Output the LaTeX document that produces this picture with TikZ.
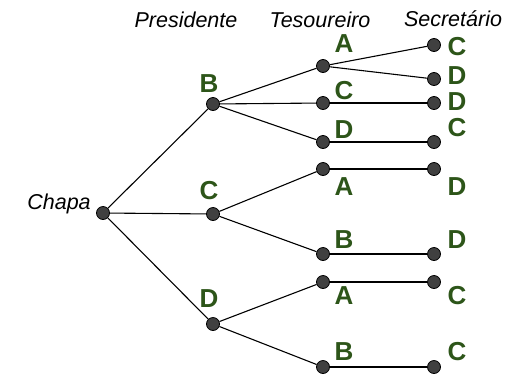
\documentclass[tikz,border=0pt]{standalone}
\usepackage{fontspec}
\setmainfont{Liberation Sans}
\definecolor{verde}{RGB}{45,85,25}
\definecolor{cinza}{RGB}{64,64,64}
\begin{document}
\begin{tikzpicture}[x=1pt,y=-1pt,line width=1.1pt,
	ponto/.style={circle,draw=black,fill=cinza,line width=0.8pt,minimum size=13pt,inner sep=0pt},
	letra/.style={text=verde,font=\fontsize{26}{26}\selectfont\bfseries,inner sep=0pt},
	cargo/.style={font=\fontsize{21.5}{21.5}\selectfont\itshape,anchor=base,inner sep=0pt}]
	\useasboundingbox (0,0) rectangle (514,373);
	% cargos
	\node[cargo] (pres) at (186,27) {Presidente};
	\node[cargo] (tes) at (320,27) {Tesoureiro};
	\node[cargo] (sec) at (453,26) {Secretário};
	% raiz
	\node[ponto] (chapa) at (103,213) {};
	\node[cargo] (tchapa) at (59,209) {Chapa};
	% presidente
	\node[ponto] (pB) at (213,104) {};
	\node[ponto] (pC) at (213,214) {};
	\node[ponto] (pD) at (213,324) {};
	\node[letra] (lpB) at (209,84) {B};
	\node[letra] (lpC) at (209,191) {C};
	\node[letra] (lpD) at (209,299) {D};
	% tesoureiro
	\node[ponto] (tA1) at (323,66) {};
	\node[ponto] (tC1) at (323,103) {};
	\node[ponto] (tD1) at (323,142) {};
	\node[ponto] (tA2) at (323,169) {};
	\node[ponto] (tB2) at (323,254) {};
	\node[ponto] (tA3) at (323,282) {};
	\node[ponto] (tB3) at (323,367) {};
	\node[letra] (ltA1) at (344,44) {A};
	\node[letra] (ltC1) at (344,91) {C};
	\node[letra] (ltD1) at (344,130) {D};
	\node[letra] (ltA2) at (344,187) {A};
	\node[letra] (ltB2) at (344,240) {B};
	\node[letra] (ltA3) at (344,296) {A};
	\node[letra] (ltB3) at (344,352) {B};
	% secretario
	\node[ponto] (sC1) at (434,45) {};
	\node[ponto] (sD1) at (434,79) {};
	\node[ponto] (sD2) at (434,103) {};
	\node[ponto] (sC2) at (434,142) {};
	\node[ponto] (sD3) at (434,169) {};
	\node[ponto] (sD4) at (434,254) {};
	\node[ponto] (sC3) at (434,282) {};
	\node[ponto] (sC4) at (434,367) {};
	\node[letra] (lsC1) at (457,47) {C};
	\node[letra] (lsD1) at (457,76) {D};
	\node[letra] (lsD2) at (457,102) {D};
	\node[letra] (lsC2) at (457,128) {C};
	\node[letra] (lsD3) at (457,187) {D};
	\node[letra] (lsD4) at (457,240) {D};
	\node[letra] (lsC3) at (457,296) {C};
	\node[letra] (lsC4) at (457,352) {C};
	% ramos
	\draw (chapa) -- (pB);
	\draw (chapa) -- (pC);
	\draw (chapa) -- (pD);
	\draw (pB) -- (tA1);
	\draw (pB) -- (tC1);
	\draw (pB) -- (tD1);
	\draw (pC) -- (tA2);
	\draw (pC) -- (tB2);
	\draw (pD) -- (tA3);
	\draw (pD) -- (tB3);
	\draw (tA1) -- (sC1);
	\draw (tA1) -- (sD1);
	\draw (tC1) -- (sD2);
	\draw (tD1) -- (sC2);
	\draw (tA2) -- (sD3);
	\draw (tB2) -- (sD4);
	\draw (tA3) -- (sC3);
	\draw (tB3) -- (sC4);
\end{tikzpicture}
\end{document}
